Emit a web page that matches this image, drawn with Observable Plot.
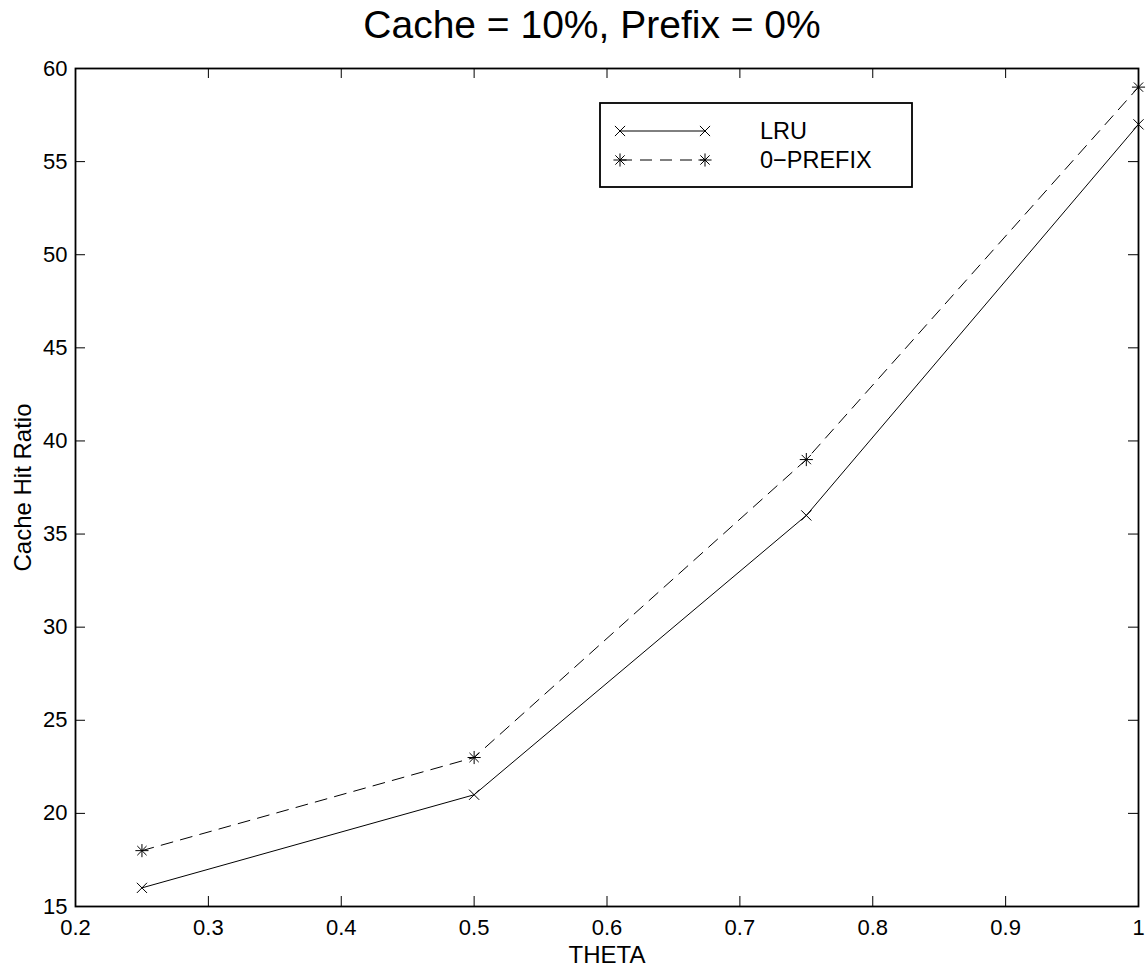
<!DOCTYPE html>
<html><head><meta charset="utf-8">
<script src="https://cdn.jsdelivr.net/npm/d3@7"></script>
<script src="https://cdn.jsdelivr.net/npm/@observablehq/plot@0.6"></script>
<style>html,body{margin:0;padding:0;background:#fff}</style>
</head><body><div id="chart"></div>
<script>
// ---- data ----
const theta = [0.25, 0.5, 0.75, 1];
const lruValues = [16, 21, 36, 57];
const prefixValues = [18, 23, 39, 59];
const seriesNames = ["LRU", "0\u2212PREFIX"];
const xTicks = [0.2, 0.3, 0.4, 0.5, 0.6, 0.7, 0.8, 0.9, 1];
const xTickLabels = ["0.2", "0.3", "0.4", "0.5", "0.6", "0.7", "0.8", "0.9", "1"];
const yTicks = [15, 20, 25, 30, 35, 40, 45, 50, 55, 60];
const titleText = "Cache = 10%, Prefix = 0%";
const xLabel = "THETA";
const yLabel = "Cache Hit Ratio";

// ---- layout ----
const W = 1147, H = 969;
const mL = 75, mR = 9, mT = 68, mB = 63;
const innerW = W - mL - mR, innerH = H - mT - mB;
const tickLen = 10;
const font = "'Liberation Sans', Arial, Helvetica, sans-serif";

const lruData = theta.map((t, i) => ({t, v: lruValues[i]}));
const preData = theta.map((t, i) => ({t, v: prefixValues[i]}));

const plot = Plot.plot({
  width: W, height: H,
  marginLeft: mL, marginRight: mR, marginTop: mT, marginBottom: mB,
  style: {fontFamily: font, background: "#fff", color: "#000"},
  x: {domain: [0.2, 1]},
  y: {domain: [15, 60]},
  marks: [
    // inward ticks on all four sides
    Plot.tickX(xTicks, {x: d => d, insetTop: innerH - tickLen, stroke: "#000", strokeWidth: 1}),
    Plot.tickX(xTicks, {x: d => d, insetBottom: innerH - tickLen, stroke: "#000", strokeWidth: 1}),
    Plot.tickY(yTicks, {y: d => d, insetRight: innerW - tickLen, stroke: "#000", strokeWidth: 1}),
    Plot.tickY(yTicks, {y: d => d, insetLeft: innerW - tickLen, stroke: "#000", strokeWidth: 1}),
    Plot.axisX(xTicks, {anchor: "bottom", tickSize: 0, tickPadding: 13, fontSize: 22,
      tickFormat: d => xTickLabels[xTicks.indexOf(d)], label: null}),
    Plot.axisY(yTicks, {anchor: "left", tickSize: 0, tickPadding: 8, fontSize: 22, label: null}),
    // series
    Plot.line(lruData, {x: "t", y: "v", stroke: "#000", strokeWidth: 1}),
    Plot.dot(lruData, {x: "t", y: "v", symbol: "times", r: 4.7, stroke: "#000", strokeWidth: 1}),
    Plot.line(preData, {x: "t", y: "v", stroke: "#000", strokeWidth: 1, strokeDasharray: "12,8"}),
    Plot.dot(preData, {x: "t", y: "v", symbol: "times", r: 4.3, stroke: "#000", strokeWidth: 1}),
    Plot.dot(preData, {x: "t", y: "v", symbol: "plus", r: 4.3, stroke: "#000", strokeWidth: 1}),
    Plot.frame({stroke: "#000", strokeWidth: 1.8}),
    // texts
    Plot.text([titleText], {frameAnchor: "top", dx: -15, dy: -43, fontSize: 39, lineAnchor: "middle", textAnchor: "middle", fill: "#000"}),
    Plot.text([xLabel], {frameAnchor: "bottom", dy: 49, fontSize: 24, lineAnchor: "middle", textAnchor: "middle", fill: "#000"}),
    Plot.text([yLabel], {frameAnchor: "left", dx: -52, rotate: -90, fontSize: 24, lineAnchor: "middle", textAnchor: "middle", fill: "#000"})
  ]
});

// ---- legend ----
const svg = d3.select(plot);
const lg = svg.append("g").attr("font-family", font);
lg.append("rect").attr("x", 600).attr("y", 103).attr("width", 312).attr("height", 84)
  .attr("fill", "#fff").attr("stroke", "#000").attr("stroke-width", 1.8);
const legendRows = [
  {name: seriesNames[0], dash: null, symbols: [d3.symbolTimes], size: Math.PI * 4.7 * 4.7},
  {name: seriesNames[1], dash: "12,8", symbols: [d3.symbolTimes, d3.symbolPlus], size: Math.PI * 4.3 * 4.3}
];
legendRows.forEach((row, i) => {
  const cy = 131 + i * 29;
  lg.append("line").attr("x1", 620).attr("x2", 705).attr("y1", cy).attr("y2", cy)
    .attr("stroke", "#000").attr("stroke-width", 1).attr("stroke-dasharray", row.dash);
  [620, 705].forEach(cx => row.symbols.forEach(s => {
    lg.append("path").attr("d", d3.symbol(s, row.size)()).attr("transform", `translate(${cx},${cy})`)
      .attr("fill", "none").attr("stroke", "#000").attr("stroke-width", 1);
  }));
  lg.append("text").attr("x", 760).attr("y", cy).attr("dy", "0.35em").attr("font-size", 23.5)
    .attr("text-anchor", "start").attr("fill", "#000").text(row.name);
});

document.getElementById("chart").appendChild(plot);
</script>
</body></html>
